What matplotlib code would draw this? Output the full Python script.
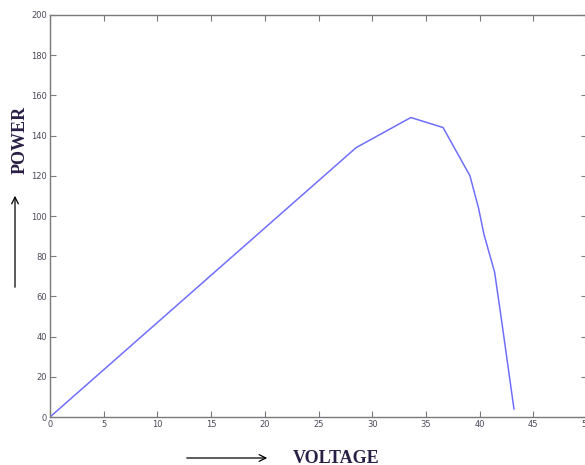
import numpy as np
import matplotlib.pyplot as plt

# P-V curve
voltage = [0, 28.5, 33.6, 36.6, 39.1, 39.9, 40.4, 41.4, 42.1, 43.2]
power = [0, 134, 149, 144, 120, 104, 91, 72, 46, 4]

xticks = np.arange(0, 55, 5)
yticks = np.arange(0, 220, 20)

fig = plt.figure(figsize=(5.85, 4.65), dpi=100)
ax = fig.add_axes([50 / 585, 48 / 465, 537 / 585, 402 / 465])

ax.plot(voltage, power, color='#6f6fff', linewidth=1.1)

ax.set_xlim(0, 50)
ax.set_ylim(0, 200)
ax.set_xticks(xticks)
ax.set_yticks(yticks)
ax.tick_params(direction='in', length=4, width=0.8, colors='#7a7a7a',
               labelsize=6, labelcolor='#4a4a5a', top=True, right=True, pad=2)
for s in ax.spines.values():
    s.set_color('#7a7a7a')
    s.set_linewidth(1.0)

lab = dict(family=['Liberation Serif', 'DejaVu Serif'], fontweight='bold',
           color='#2a1f45', fontsize=13)
fig.text(20 / 585, 1 - 140 / 465, 'POWER', rotation=90, ha='center', va='center', **lab)
fig.text(336 / 585, 1 - 458 / 465, 'VOLTAGE', ha='center', va='center', **lab)

arrow = dict(arrowstyle='->', color='black', lw=0.9, mutation_scale=12)
fig.add_artist(plt.Annotation('', xy=(15 / 585, 1 - 193 / 465), xytext=(15 / 585, 1 - 290 / 465),
                              xycoords='figure fraction', arrowprops=arrow))
fig.add_artist(plt.Annotation('', xy=(270 / 585, 1 - 458 / 465), xytext=(184 / 585, 1 - 458 / 465),
                              xycoords='figure fraction', arrowprops=arrow))

fig.savefig('out.png', dpi=100)
